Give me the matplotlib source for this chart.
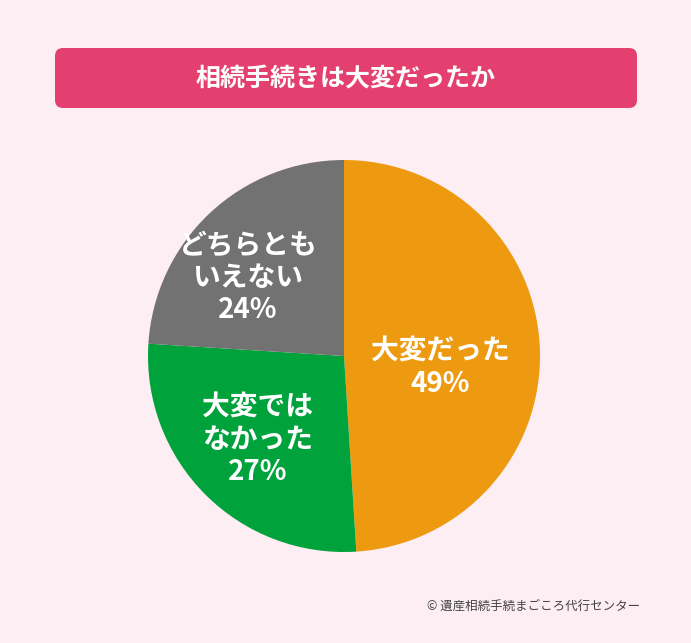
import matplotlib.pyplot as plt
from matplotlib.patches import FancyBboxPatch

plt.rcParams['font.family'] = ['Noto Sans CJK JP', 'DejaVu Sans']

title = "相続手続きは大変だったか"
labels = ["大変だった", "大変では\nなかった", "どちらとも\nいえない"]
values = [49, 27, 24]
colors = ["#EE9A10", "#00A23B", "#727272"]
credit = "© 遺産相続手続まごころ代行センター"

fig = plt.figure(figsize=(6.91, 6.43), dpi=100)
fig.patch.set_facecolor("#FDEEF3")
ax = fig.add_axes([0, 0, 1, 1])

# title bar
ax.add_patch(FancyBboxPatch((55, 48), 582, 60, boxstyle="round,pad=0,rounding_size=8",
                            facecolor="#E4406F", edgecolor="none"))
ax.text(346, 79, title, color="white", fontsize=18, fontweight="bold",
        ha="center", va="center")

# pie (y axis inverted, so counterclock=True draws clockwise on screen)
wedges, _ = ax.pie(values, colors=colors, startangle=-90, counterclock=True,
                   center=(344, 356), radius=196, frame=True,
                   wedgeprops=dict(linewidth=0))
ax.set_xlim(0, 691)
ax.set_ylim(643, 0)
ax.set_aspect("equal")
ax.axis("off")

label_pos = [(440, 368), (258, 440), (248, 278)]
for (x, y), lab, v in zip(label_pos, labels, values):
    ax.text(x, y, f"{lab}\n{v}%", color="white", fontsize=20, fontweight="bold",
            ha="center", va="center", linespacing=1.2)

ax.text(640, 606, credit, color="#444444", fontsize=9, ha="right", va="center")

fig.savefig("out.png", dpi=100, facecolor=fig.get_facecolor())
